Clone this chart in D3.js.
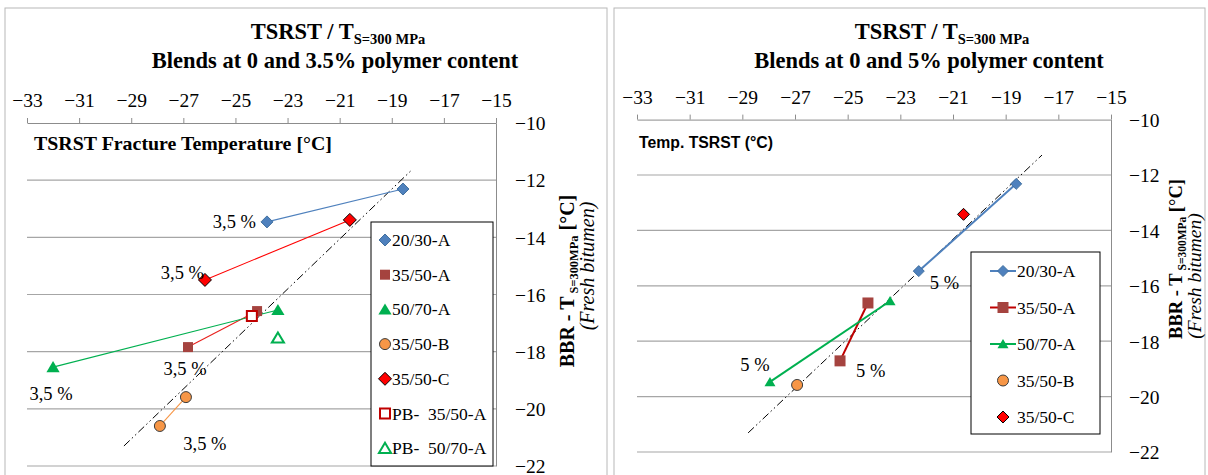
<!DOCTYPE html>
<html>
<head>
<meta charset="utf-8">
<script src="https://cdn.jsdelivr.net/npm/d3@7"></script>
<style>
  body { margin: 0; background: #fff; }
  svg text { font-family: "Liberation Serif", "Times New Roman", serif; }
  .grid line { stroke: #a6a6a6; stroke-width: 1.2; }
  .axis path, .axis line { stroke: #8c8c8c; }
  .axis text { font-size: 19.5px; fill: #000; }
  .frame { fill: none; stroke: #b8b8b8; }
  .pre { white-space: pre; }
</style>
</head>
<body>
<svg id="chart" width="1208" height="475"></svg>
<script>
const xTickValues = [-33, -31, -29, -27, -25, -23, -21, -19, -17, -15];
const yTickValues = [-10, -12, -14, -16, -18, -20, -22];

// left chart: base bitumen and 3.5 % polymer
const left2030A = [[-23.79, -13.46], [-18.57, -12.31]];
const left3550A = [[-26.82, -17.84], [-24.17, -16.58]];
const left5070A = [[-32.0, -18.54], [-23.37, -16.54]];
const left3550B = [[-26.9, -19.59], [-27.9, -20.6]];
const left3550C = [[-26.17, -15.49], [-20.61, -13.39]];
const leftPB3550A = [[-24.37, -16.75]];
const leftPB5070A = [[-23.37, -17.52]];
const leftTrend = [[-29.28, -21.3], [-18.23, -11.64]];

// right chart: base bitumen and 5 % polymer
const right2030A = [[-22.3, -15.47], [-18.6, -12.32]];
const right3550A = [[-25.29, -18.71], [-24.23, -16.62]];
const right5070A = [[-27.95, -19.47], [-23.39, -16.55]];
const right3550B = [[-26.92, -19.58]];
const right3550C = [[-20.6, -13.42]];
const rightTrend = [[-28.78, -21.31], [-17.62, -11.28]];

const leftNames = ["20/30-A", "35/50-A", "50/70-A", "35/50-B", "35/50-C", "PB-  35/50-A", "PB-  50/70-A"];
const rightNames = ["20/30-A", "35/50-A", "50/70-A", "35/50-B", "35/50-C"];

const leftNoteText = "3,5 %";
const rightNoteText = "5 %";
// which point of which series carries a polymer-content label
const leftNotes = [["20/30-A", 0], ["35/50-C", 0], ["35/50-A", 0], ["50/70-A", 0], ["35/50-B", 1]];
const rightNotes = [["20/30-A", 0], ["50/70-A", 0], ["35/50-A", 0]];

const serif = '"Liberation Serif", "Times New Roman", serif';
const svg = d3.select("#chart");

function markerPath(shape, s) {
  if (shape === "diamond") return `M0,${-s}L${s},0L0,${s}L${-s},0Z`;
  if (shape === "square") return `M${-s},${-s}H${s}V${s}H${-s}Z`;
  if (shape === "triangle") return `M0,${-s}L${s * 1.1},${s * 0.85}L${-s * 1.1},${s * 0.85}Z`;
  return `M${s},0A${s},${s} 0 1,1 ${-s},0A${s},${s} 0 1,1 ${s},0Z`;
}

function drawMarker(g, st, cx, cy) {
  g.append("path")
    .attr("d", markerPath(st.shape, st.size))
    .attr("transform", `translate(${cx},${cy})`)
    .attr("fill", st.fill)
    .attr("stroke", st.stroke || "none")
    .attr("stroke-width", st.strokeWidth || 1);
}

function drawPanel(p) {
  const g = svg.append("g");
  g.append("rect").attr("class", "frame")
    .attr("x", p.frame[0]).attr("y", p.frame[1]).attr("width", p.frame[2]).attr("height", p.frame[3]);

  const x = d3.scaleLinear().domain([-33, -15]).range(p.xRange);
  const y = d3.scaleLinear().domain([-10, -22]).range(p.yRange);

  // title
  const t1 = g.append("text").attr("x", p.title1X).attr("y", 39)
    .attr("text-anchor", "middle").attr("font-weight", "bold").attr("font-size", 22.5);
  t1.append("tspan").text("TSRST / T");
  t1.append("tspan").attr("font-size", 14.5).attr("dy", 5).text("S=300 MPa");
  g.append("text").attr("x", p.title2X).attr("y", 68)
    .attr("text-anchor", "middle").attr("font-weight", "bold").attr("font-size", 22.5)
    .text(p.subtitle);

  g.append("g").attr("class", "grid")
    .selectAll("line").data(yTickValues.filter((d) => d !== -10)).join("line")
    .attr("x1", p.xRange[0]).attr("x2", p.xRange[1])
    .attr("y1", (d) => y(d)).attr("y2", (d) => y(d));

  g.append("g").attr("class", "axis")
    .attr("transform", `translate(0,${y(-10)})`)
    .call(d3.axisTop(x).tickValues(xTickValues).tickSize(5).tickSizeOuter(0).tickPadding(11).tickFormat(d3.format("d")))
    .attr("font-family", serif);

  const ya = g.append("g").attr("class", "axis")
    .attr("transform", `translate(${p.xRange[1]},0)`)
    .call(d3.axisRight(y).tickValues(yTickValues).tickSize(0).tickPadding(p.yPad).tickFormat(d3.format("d")))
    .attr("font-family", serif);
  ya.selectAll("text").attr("dy", "0.35em");

  // x title inside plot
  g.append("text").attr("x", p.xTitle.x).attr("y", p.xTitle.y)
    .attr("font-weight", "bold").attr("font-size", p.xTitle.size)
    .style("font-family", p.xTitle.font)
    .attr("textLength", p.xTitle.len).attr("lengthAdjust", "spacingAndGlyphs")
    .text(p.xTitle.text);

  // y title, two rotated lines
  const yt = g.append("text").attr("transform", `translate(${p.yTitle[0]},${p.yTitle[1]}) rotate(-90)`)
    .attr("text-anchor", "middle").attr("font-weight", "bold").attr("font-size", p.yTitle[4]);
  yt.append("tspan").text("BBR - T");
  yt.append("tspan").attr("font-size", p.yTitle[4] * 0.62).attr("dy", 4).attr("dx", 3).text("S=300MPa");
  yt.append("tspan").attr("dy", -4).text(" [°C]");
  g.append("text").attr("transform", `translate(${p.yTitle[2]},${p.yTitle[3]}) rotate(-90)`)
    .attr("text-anchor", "middle").attr("font-style", "italic").attr("font-size", p.yTitle[5])
    .text("(Fresh bitumen)");

  // trend line
  const line = d3.line().x((d) => x(d[0])).y((d) => y(d[1]));
  g.append("path").datum(p.trend).attr("d", line)
    .attr("fill", "none").attr("stroke", "#000").attr("stroke-width", 1)
    .attr("stroke-dasharray", "8,3,1.5,3,1.5,3");

  p.series.forEach((s) => {
    const st = p.styles[s.name];
    if (st.line && s.points.length > 1) {
      g.append("path").datum(s.points).attr("d", line)
        .attr("fill", "none").attr("stroke", st.line).attr("stroke-width", p.lineWidth);
    }
  });
  p.series.forEach((s) => {
    const st = p.styles[s.name];
    s.points.forEach((d) => drawMarker(g, st, x(d[0]), y(d[1])));
  });

  // polymer content labels
  p.notes.forEach(([name, idx], i) => {
    const pt = p.series.find((s) => s.name === name).points[idx];
    const o = p.noteOffsets[i];
    g.append("text").attr("x", x(pt[0]) + o[0]).attr("y", y(pt[1]) + o[1])
      .attr("text-anchor", o[2]).attr("font-size", 18.5).attr("class", "pre")
      .text(p.noteText);
  });

  // legend
  const L = p.legend;
  const lg = g.append("g");
  lg.append("rect").attr("x", L.x).attr("y", L.y).attr("width", L.w).attr("height", L.h)
    .attr("fill", "#fff").attr("stroke", "#000");
  p.names.forEach((name, i) => {
    const st = p.styles[name];
    const cy = L.y + L.first + i * L.step;
    if (L.lines && st.line) {
      lg.append("line").attr("x1", L.mx - 13).attr("x2", L.mx + 13).attr("y1", cy).attr("y2", cy)
        .attr("stroke", st.line).attr("stroke-width", p.lineWidth);
    }
    drawMarker(lg, st, L.mx, cy);
    lg.append("text").attr("class", "pre").attr("x", L.tx).attr("y", cy + 6)
      .attr("font-size", 17.5).text(name);
  });
}

drawPanel({
  frame: [5, 8, 602, 480],
  xRange: [27, 496],
  yRange: [123, 466],
  yPad: 19,
  title1X: 338,
  title2X: 335,
  subtitle: "Blends at 0 and 3.5% polymer content",
  xTitle: { x: 34, y: 150, size: 19.5, len: 298, font: serif, text: "TSRST Fracture Temperature [°C]" },
  yTitle: [574, 281, 594, 266, 20, 20],
  trend: leftTrend,
  lineWidth: 1.1,
  series: [
    { name: "20/30-A", points: left2030A },
    { name: "35/50-A", points: left3550A },
    { name: "50/70-A", points: left5070A },
    { name: "35/50-B", points: left3550B },
    { name: "35/50-C", points: left3550C },
    { name: "PB-  35/50-A", points: leftPB3550A },
    { name: "PB-  50/70-A", points: leftPB5070A },
  ],
  styles: {
    "20/30-A": { shape: "diamond", size: 6, fill: "#4F81BD", stroke: "#41709f", line: "#4F81BD" },
    "35/50-A": { shape: "square", size: 5, fill: "#A5433F", line: "#E8201C" },
    "50/70-A": { shape: "triangle", size: 6, fill: "#00B050", line: "#00B050" },
    "35/50-B": { shape: "circle", size: 5.5, fill: "#F79646", stroke: "#3b3b3b", line: "#F79646" },
    "35/50-C": { shape: "diamond", size: 6.5, fill: "#FF0000", stroke: "#000", line: "#FF0000" },
    "PB-  35/50-A": { shape: "square", size: 5, fill: "#fff", stroke: "#C00000", strokeWidth: 2 },
    "PB-  50/70-A": { shape: "triangle", size: 5.5, fill: "#fff", stroke: "#00B050", strokeWidth: 2 },
  },
  names: leftNames,
  notes: leftNotes,
  noteText: leftNoteText,
  noteOffsets: [[-11, 6, "end"], [-1, -1, "end"], [-3, 28, "middle"], [-2, 33, "middle"], [45, 24, "middle"]],
  legend: { x: 371, y: 222, w: 122, h: 244, first: 18, step: 34.7, mx: 385, tx: 392, lines: false },
});

drawPanel({
  frame: [614, 8, 591, 480],
  xRange: [637, 1111],
  yRange: [119.6, 452],
  yPad: 18,
  title1X: 942,
  title2X: 929,
  subtitle: "Blends at 0 and 5% polymer content",
  xTitle: { x: 639, y: 148, size: 16, len: 134, font: '"Liberation Sans", Arial, sans-serif', text: "Temp. TSRST (°C)" },
  yTitle: [1182, 259, 1201, 276, 18.5, 19.5],
  trend: rightTrend,
  lineWidth: 2,
  series: [
    { name: "20/30-A", points: right2030A },
    { name: "35/50-A", points: right3550A },
    { name: "50/70-A", points: right5070A },
    { name: "35/50-B", points: right3550B },
    { name: "35/50-C", points: right3550C },
  ],
  styles: {
    "20/30-A": { shape: "diamond", size: 5.5, fill: "#4F81BD", stroke: "#41709f", line: "#4F81BD" },
    "35/50-A": { shape: "square", size: 5.5, fill: "#A5433F", line: "#C00000" },
    "50/70-A": { shape: "triangle", size: 5, fill: "#00B050", line: "#00B050" },
    "35/50-B": { shape: "circle", size: 5.5, fill: "#F79646", stroke: "#3b3b3b" },
    "35/50-C": { shape: "diamond", size: 6, fill: "#FF0000", stroke: "#000" },
  },
  names: rightNames,
  notes: rightNotes,
  noteText: rightNoteText,
  noteOffsets: [[11, 18, "start"], [-15, -11, "middle"], [16, 16, "start"]],
  legend: { x: 971, y: 252, w: 129, h: 182, first: 19, step: 36.5, mx: 1003, tx: 1017, lines: true },
});
</script>
</body>
</html>
